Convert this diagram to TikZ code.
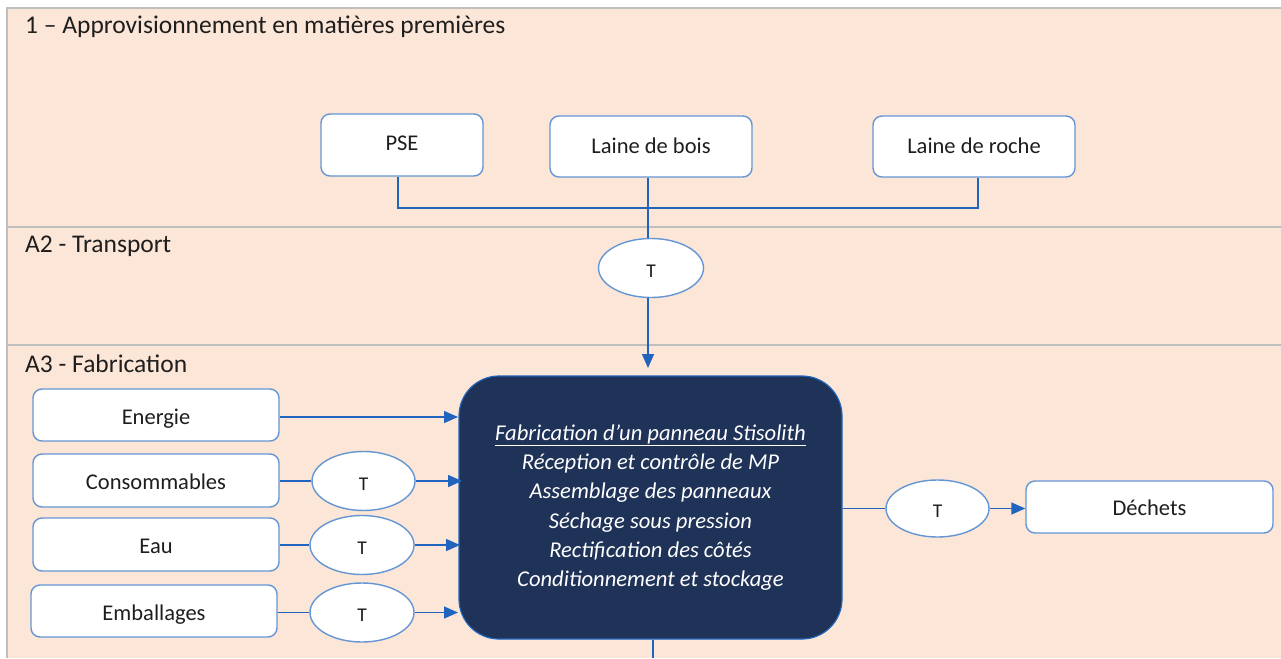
\documentclass[tikz,border=0pt]{standalone}
\usepackage{fontspec}
\setmainfont{Carlito}
\usetikzlibrary{arrows.meta,shapes.geometric}
\definecolor{peach}{RGB}{251,230,215}
\definecolor{framegray}{RGB}{191,191,191}
\definecolor{navy}{RGB}{31,50,87}
\definecolor{boxblue}{RGB}{100,150,212}
\definecolor{linkblue}{RGB}{32,100,190}
\definecolor{txt}{RGB}{30,30,30}
\tikzset{
  inbox/.style={draw=boxblue, line width=1.4pt, fill=white, rounded corners=9pt,
    minimum width=#1, minimum height=52pt, inner sep=0pt, text=txt,
    text height=18pt, text depth=0pt,
    font=\fontsize{22.5}{26}\selectfont},
  inbox/.default=246pt,
  tnode/.style={ellipse, draw=boxblue, line width=1.4pt, fill=white,
    minimum width=104pt, minimum height=59pt, inner sep=0pt, text=txt,
    text height=18.6pt, text depth=0pt,
    font=\fontsize{19.5}{22}\selectfont},
  link/.style={draw=linkblue, line width=1.4pt},
  arr/.style={link, -{Triangle[length=14pt,width=12pt]}},
  section/.style={anchor=west, text=txt, font=\fontsize{25.5}{28}\selectfont, inner sep=0pt},
}
\begin{document}
\begin{tikzpicture}[x=1pt,y=-1pt]
\useasboundingbox (0,0) rectangle (1281,658);
% background
\fill[peach] (7,8) rectangle (1281,658);
\draw[framegray, line width=2pt] (7,658) -- (7,8) -- (1281,8);
\draw[framegray, line width=1.6pt] (7,227) -- (1281,227);
\draw[framegray, line width=1.6pt] (7,345) -- (1281,345);
% section titles
\node[section] (s1) at (25,27) {1 – Approvisionnement en matières premières};
\node[section] (s2) at (25,246) {A2 - Transport};
\node[section] (s3) at (25,364) {A3 - Fabrication};
% raw materials
\node[inbox=162pt, minimum height=62pt, text height=11pt] (pse) at (402,145) {PSE};
\node[inbox=202pt, minimum height=61pt, text height=14pt] (bois) at (651,146.5) {Laine de bois};
\node[inbox=202pt, minimum height=61pt, text height=14pt] (roche) at (974,146.5) {Laine de roche};
\coordinate (hl) at (648,208);
\draw[link] ([xshift=-4pt]pse.south) |- (hl) -| ([xshift=4pt]roche.south);
% transport
\node[tnode, minimum width=105pt] (t1) at (651,268) {T};
\draw[link] ([xshift=-3pt]bois.south) -- ([xshift=-3pt]t1.north);
% central box
\node[draw=linkblue, line width=1.2pt, fill=navy, rounded corners=40pt,
  minimum width=383pt, minimum height=263pt, inner sep=0pt, align=center,
  text=white, font=\itshape\fontsize{22.6}{29.3}\selectfont] (fab) at (650.5,507.5)
  {\underline{Fabrication d’un panneau Stisolith}\\
   Réception et contrôle de MP\\
   Assemblage des panneaux\\
   Séchage sous pression\\
   Rectification des côtés\\
   Conditionnement et stockage};
\draw[arr] ([xshift=-3pt]t1.south) -- ([xshift=-3pt]t1.south |- 0,368) coordinate (fabtop);
% inputs
\node[inbox] (ener) at (156,415) {Energie};
\node[inbox, minimum height=53pt] (cons) at (156,480.5) {Consommables};
\node[inbox, minimum height=53pt] (eau) at (156,544.5) {Eau};
\node[inbox] (emb) at (154,611) {Emballages};
\node[tnode, minimum width=103pt] (tc) at (363.5,481) {T};
\node[tnode] (te) at (362,545) {T};
\node[tnode] (tm) at (362,612.5) {T};
\coordinate (ae) at (458,417);
\draw[arr] (ener.east |- ae) -- (ae);
\draw[link] (cons.east |- tc) -- (tc.west);
\draw[arr] (tc.east) -- (462,481);
\draw[link] (eau.east |- te) -- (te.west);
\draw[arr] (te.east) -- (460,545);
\draw[link] (emb.east |- tm) -- (tm.west);
\draw[arr] (tm.east) -- (458,612.5);
% output
\node[tnode, minimum width=103pt, minimum height=57pt] (tout) at (937.5,508.5) {T};
\node[inbox=247pt, text height=17pt] (dech) at (1149.5,507) {Déchets};
\draw[link] (fab.east |- tout) -- (tout.west);
\draw[arr] (tout.east) -- (dech.west |- tout);
% downward exit
\coordinate (exit) at (653,658);
\draw[link] (fab.south -| exit) -- (exit);
\end{tikzpicture}
\end{document}
